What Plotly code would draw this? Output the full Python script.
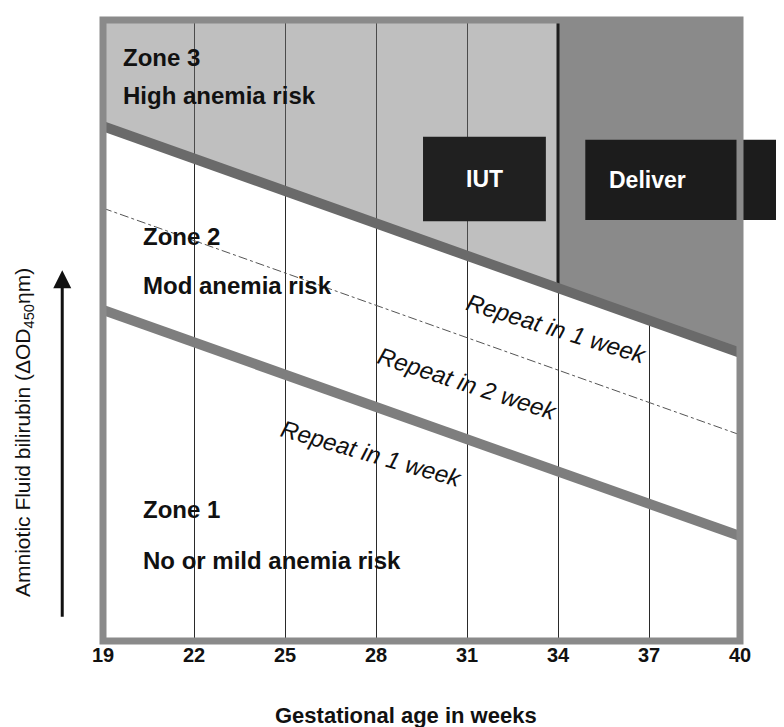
import numpy as np
import plotly.graph_objects as go

# ---------------- data ----------------
weeks = [19, 40]
tick_weeks = [19, 22, 25, 28, 31, 34, 37, 40]
tick_labels = ["19", "22", "25", "28", "31", "34", "37", "40"]

# boundary lines (relative amniotic fluid bilirubin, arbitrary linear units 0..1)
zone3_boundary = [0.829, 0.464]   # upper thick line (zone 2 / zone 3)
zone2_mid = [0.697, 0.332]        # dashed line inside zone 2
zone1_boundary = [0.533, 0.169]   # lower thick line (zone 1 / zone 2)

deliver_week = 34
iut_box_weeks = [29.55, 33.6]
iut_box_level = [0.676, 0.812]
deliver_box_weeks = [34.9, 41.7]
deliver_box_level = [0.678, 0.807]

XMIN, XMAX = 19, 40
FONT = "Liberation Sans, Arial, Helvetica, sans-serif"


def up(w):
    return float(np.interp(w, weeks, zone3_boundary))


def to_paper(w):
    return (w - XMIN) / (XMAX - XMIN)


fig = go.Figure()

# zone 3, light area (before 34 weeks)
fig.add_trace(go.Scatter(
    x=[weeks[0], deliver_week, deliver_week, weeks[0]],
    y=[up(weeks[0]), up(deliver_week), 1, 1],
    fill="toself", fillcolor="rgba(115,115,115,0.46)",
    line=dict(width=0), mode="lines", hoverinfo="skip", showlegend=False))

# zone 3, dark area (after 34 weeks)
fig.add_trace(go.Scatter(
    x=[deliver_week, weeks[1], weeks[1], deliver_week],
    y=[up(deliver_week), up(weeks[1]), 1, 1],
    fill="toself", fillcolor="#8a8a8a",
    line=dict(width=0), mode="lines", hoverinfo="skip", showlegend=False))

# dark edge at 34 weeks
fig.add_trace(go.Scatter(
    x=[deliver_week, deliver_week], y=[up(deliver_week), 1],
    mode="lines", line=dict(color="#1e1e1e", width=3),
    hoverinfo="skip", showlegend=False))

# upper thick boundary
fig.add_trace(go.Scatter(
    x=weeks, y=zone3_boundary, mode="lines",
    line=dict(color="#6a6a6a", width=10),
    hoverinfo="skip", showlegend=False))

# dashed middle line
fig.add_trace(go.Scatter(
    x=weeks, y=zone2_mid, mode="lines",
    line=dict(color="#555555", width=1, dash="dashdot"),
    hoverinfo="skip", showlegend=False))

# lower thick boundary
fig.add_trace(go.Scatter(
    x=weeks, y=zone1_boundary, mode="lines",
    line=dict(color="#7e7e7e", width=10),
    hoverinfo="skip", showlegend=False))

shapes = [
    # IUT box
    dict(type="rect", xref="x", yref="y",
         x0=iut_box_weeks[0], x1=iut_box_weeks[1],
         y0=iut_box_level[0], y1=iut_box_level[1],
         fillcolor="#202020", line=dict(width=0), layer="above"),
    # Deliver box (extends past the frame)
    dict(type="rect", xref="paper", yref="y",
         x0=to_paper(deliver_box_weeks[0]), x1=to_paper(deliver_box_weeks[1]),
         y0=deliver_box_level[0], y1=deliver_box_level[1],
         fillcolor="#1c1c1c", line=dict(width=0), layer="above"),
    # frame
    dict(type="rect", xref="paper", yref="paper", x0=0, x1=1, y0=0, y1=1,
         line=dict(color="#8a8a8a", width=7), layer="above"),
]

bold = dict(family=FONT, size=24, color="#111111", weight="bold")
rep = dict(family=FONT, size=24, color="#111111")
annotations = [
    dict(x=19.59, y=0.939, text="Zone 3", xanchor="left", yanchor="middle", font=bold),
    dict(x=19.59, y=0.878, text="High anemia risk", xanchor="left", yanchor="middle", font=bold),
    dict(x=20.25, y=0.652, text="Zone 2", xanchor="left", yanchor="middle", font=bold),
    dict(x=20.25, y=0.572, text="Mod anemia risk", xanchor="left", yanchor="middle", font=bold),
    dict(x=20.25, y=0.211, text="Zone 1", xanchor="left", yanchor="middle", font=bold),
    dict(x=20.25, y=0.129, text="No or mild anemia risk", xanchor="left", yanchor="middle", font=bold),
    dict(x=sum(iut_box_weeks) / 2, y=sum(iut_box_level) / 2, text="IUT",
         font=dict(family=FONT, size=23, color="white", weight="bold")),
    dict(xref="paper", x=to_paper(sum(deliver_box_weeks) / 2), y=sum(deliver_box_level) / 2,
         text="Deliver", font=dict(family=FONT, size=23, color="white", weight="bold")),
    dict(x=33.94, y=0.503, text="<i>Repeat in 1 week</i>", textangle=17, font=rep),
    dict(x=31.0, y=0.414, text="<i>Repeat in 2 week</i>", textangle=18, font=rep),
    dict(x=27.84, y=0.302, text="<i>Repeat in 1 week</i>", textangle=16, font=rep),
    # axis titles
    dict(xref="paper", yref="paper", x=0.476, y=-0.1195, text="Gestational age in weeks",
         font=dict(family=FONT, size=22, color="#111111", weight="bold"),
         xanchor="center", yanchor="middle"),
    dict(xref="paper", yref="paper", x=-0.124, y=0.335, textangle=-90,
         text="Amniotic Fluid bilirubin (ΔOD<sub>450</sub>ηm)",
         font=dict(family=FONT, size=21, color="#111111"), xanchor="center", yanchor="middle"),
    # arrow beside the y title
    dict(xref="paper", yref="paper", x=-0.064, y=0.597, ax=0, ay=348, text="",
         showarrow=True, arrowhead=2, arrowsize=1.2, arrowwidth=3, arrowcolor="#111111"),
]
for a in annotations:
    a.setdefault("showarrow", False)

fig.update_layout(
    width=784, height=727,
    margin=dict(l=95, r=52, t=12, b=94),
    paper_bgcolor="white", plot_bgcolor="white",
    shapes=shapes, annotations=annotations,
    xaxis=dict(range=[XMIN, XMAX], tickvals=tick_weeks, ticktext=tick_labels,
               showgrid=True, gridcolor="#2a2a2a", gridwidth=1,
               zeroline=False, showline=False, ticks="", ticklabelstandoff=0,
               tickfont=dict(family=FONT, size=20, color="#111111", weight="bold")),
    yaxis=dict(range=[0, 1], showticklabels=False, showgrid=False,
               zeroline=False, showline=False, ticks=""),
)

fig.write_html("out.html")
